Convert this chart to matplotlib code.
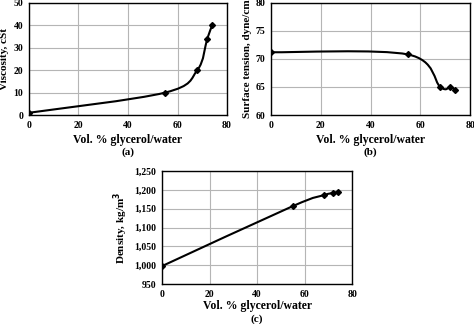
import numpy as np
import matplotlib
matplotlib.use("Agg")
import matplotlib.pyplot as plt
from matplotlib.path import Path
from matplotlib.patches import PathPatch

plt.rcParams['font.family'] = ['Liberation Serif', 'DejaVu Serif']
plt.rcParams['font.weight'] = 'bold'

# data
glycerol = [0, 55, 68, 72, 74]
viscosity = [1, 10, 20, 34, 40]
surface_tension = [71.2, 70.8, 65.0, 65.0, 64.5]
density = [998, 1157, 1186, 1192, 1194]

xticks = [0, 20, 40, 60, 80]
xlabel = "Vol. % glycerol/water"


def smooth_path(x, y):
    # excel style smoothed line (catmull-rom as bezier segments)
    pts = np.column_stack([x, y]).astype(float)
    verts = [pts[0]]
    codes = [Path.MOVETO]
    n = len(pts)
    for i in range(n - 1):
        p0 = pts[i - 1] if i > 0 else pts[i]
        p1 = pts[i]
        p2 = pts[i + 1]
        p3 = pts[i + 2] if i + 2 < n else pts[i + 1]
        c1 = p1 + (p2 - p0) / 6.0
        c2 = p2 - (p3 - p1) / 6.0
        verts += [c1, c2, p2]
        codes += [Path.CURVE4] * 3
    return Path(verts, codes)


def panel(ax, y, ylim, yticks, ylabel, tag, tag_y, lpad, fmt=None):
    ax.add_patch(PathPatch(smooth_path(glycerol, y), fill=False,
                           edgecolor='black', lw=1.5, zorder=3))
    ax.plot(glycerol, y, 'D', color='black', ms=3, zorder=4)
    ax.set_xlim(0, 80)
    ax.set_ylim(*ylim)
    ax.set_xticks(xticks)
    ax.set_yticks(yticks)
    if fmt:
        ax.set_yticklabels([fmt(v) for v in yticks])
    ax.grid(True, color='#b5b5b5', lw=0.8)
    ax.set_axisbelow(True)
    ax.tick_params(length=0, labelsize=7, pad=4)
    for s in ax.spines.values():
        s.set_linewidth(1.0)
    ax.set_xlabel(xlabel, fontsize=8.5, fontweight='bold', labelpad=lpad)
    ax.set_ylabel(ylabel, fontsize=8, fontweight='bold', labelpad=3)
    ax.text(0.5, tag_y, tag, transform=ax.transAxes, ha='center',
            va='center', fontsize=8, fontweight='bold')


fig = plt.figure(figsize=(4.74, 3.24), dpi=100)
ax1 = fig.add_axes([0.061, 0.645, 0.418, 0.346])
ax2 = fig.add_axes([0.572, 0.645, 0.420, 0.346])
ax3 = fig.add_axes([0.342, 0.123, 0.401, 0.349])

panel(ax1, viscosity, (0, 50), [0, 10, 20, 30, 40, 50], "Viscosity, cSt",
      "(a)", -0.33, 3)
panel(ax2, surface_tension, (60, 80), [60, 65, 70, 75, 80],
      "Surface tension, dyne/cm", "(b)", -0.33, 3)
panel(ax3, density, (950, 1250), [950, 1000, 1050, 1100, 1150, 1200, 1250],
      "Density, kg/m$^3$", "(c)", -0.31, 1, fmt=lambda v: f"{v:,}")

fig.savefig("out.png", dpi=100)
